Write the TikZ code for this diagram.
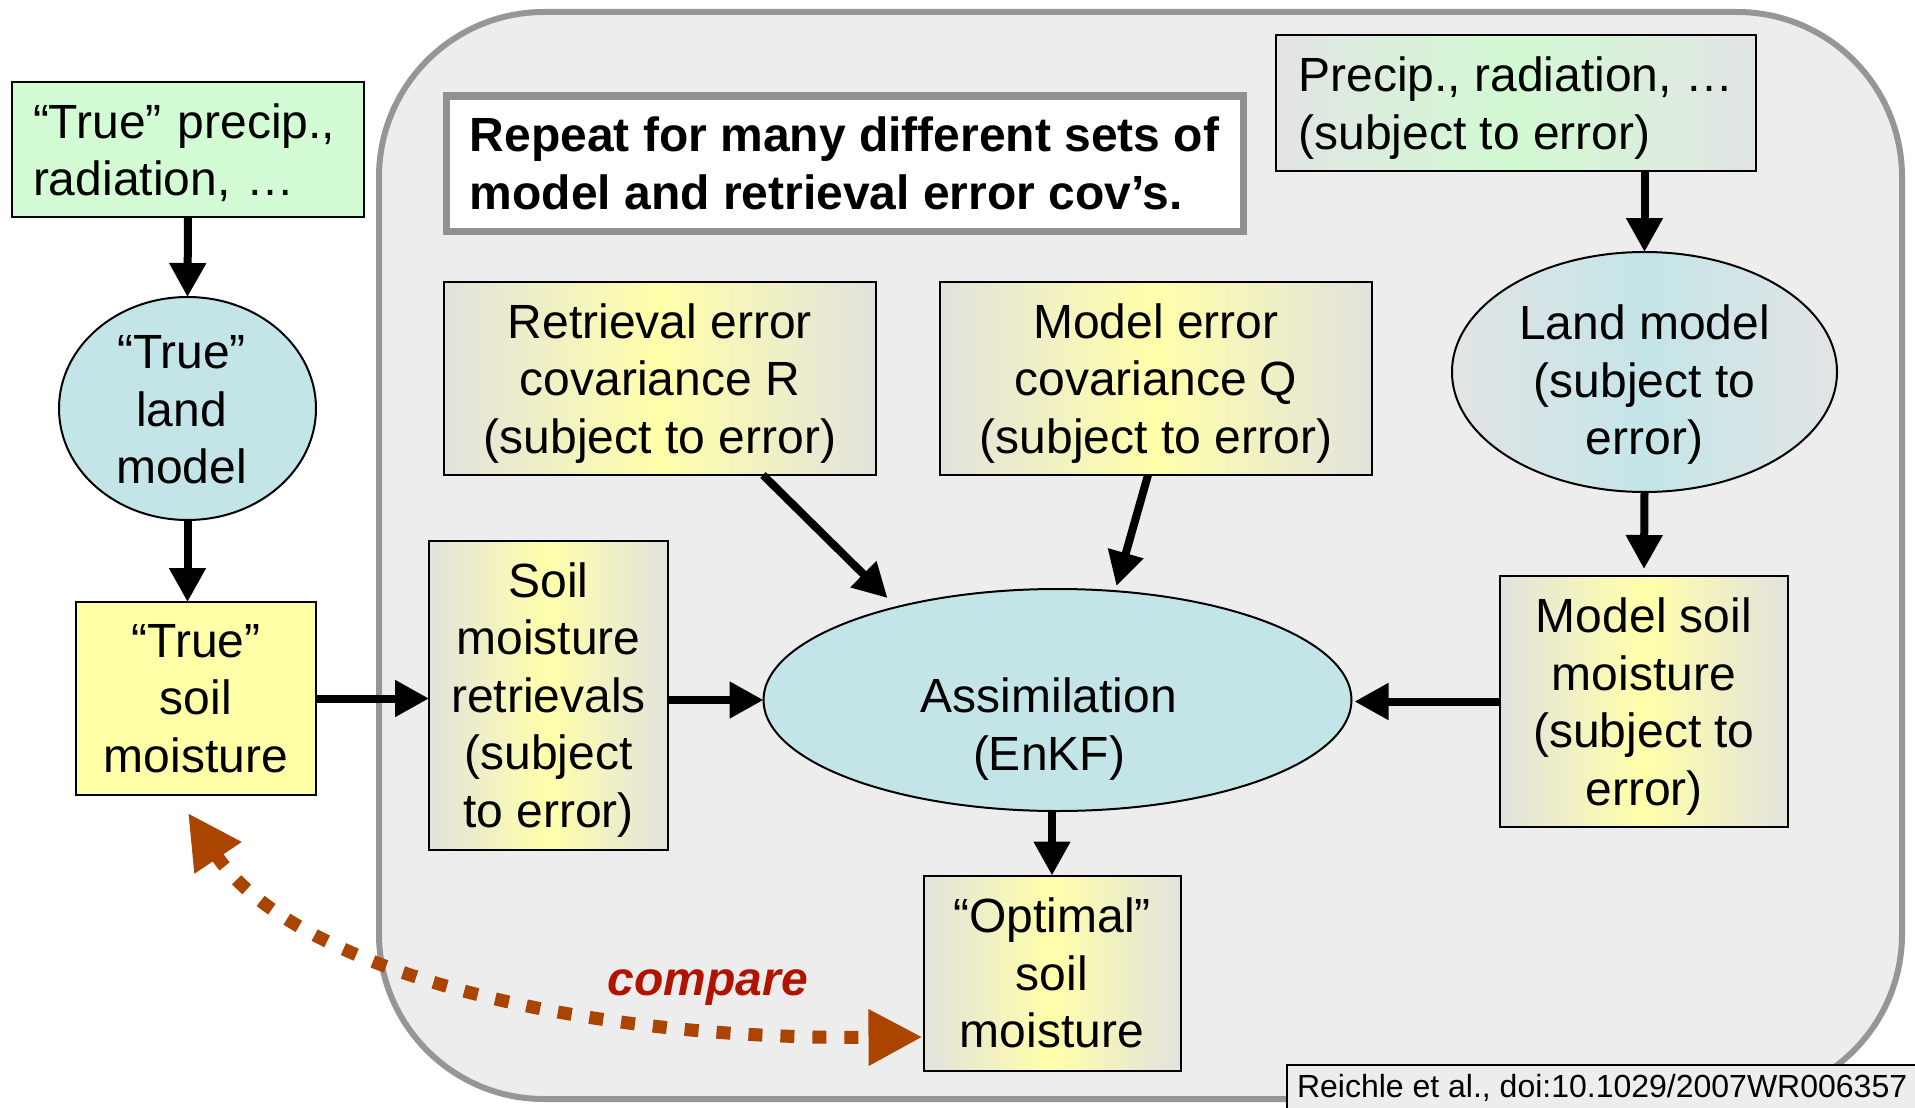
\documentclass[tikz,border=0pt]{standalone}
\usepackage{fontspec}
\setmainfont{Liberation Sans}
\usetikzlibrary{arrows.meta,shapes.geometric,calc}

\definecolor{panelgray}{RGB}{237,237,237}
\definecolor{panelborder}{RGB}{150,150,150}
\definecolor{notegray}{RGB}{145,145,145}
\definecolor{truegreen}{RGB}{212,252,212}
\definecolor{paleblue}{RGB}{196,229,232}
\definecolor{trueyellow}{RGB}{255,255,168}
\definecolor{edgegray}{RGB}{226,226,222}
\definecolor{midyellow}{RGB}{255,255,170}
\definecolor{midgreen}{RGB}{210,250,210}
\definecolor{edgegrayb}{RGB}{226,228,228}
\definecolor{comparebrown}{RGB}{170,68,0}
\definecolor{comparered}{RGB}{176,20,0}

% last line of a box: keep its descenders out of the vertical centring
\newcommand\flatline[1]{\raisebox{0pt}[\height][0pt]{#1}}

\begin{document}
\begin{tikzpicture}[x=1pt,y=-1pt,
  every node/.style={font=\fontsize{48}{57.5}\selectfont, inner sep=0pt, outer sep=0pt},
  box/.style={draw=black, line width=2pt, rectangle, align=center},
  errbox/.style={box, left color=edgegray, right color=edgegray, middle color=midyellow},
  oval/.style={draw=black, line width=2pt, ellipse},
  flowarrow/.style={line width=8pt, -{Triangle[length=34pt,width=35pt]}},
  comparearrow/.style={draw=comparebrown, line width=13pt, dash pattern=on 14pt off 18pt,
    {Triangle[length=54pt,width=53pt]}-{Triangle[length=54pt,width=53pt]}}
]
\useasboundingbox (0,0) rectangle (1915,1108);
\clip (0,0) rectangle (1915,1108);
\fill[white] (0,0) rectangle (1915,1108);

% grey panel holding the assimilation experiment
\draw[draw=panelborder, line width=6pt, fill=panelgray, rounded corners=165pt]
  (379,12) rectangle (1902,1099);

% truth (synthetic) side
\node[box, fill=truegreen, minimum width=352pt, minimum height=135pt, align=left, text width=310pt]
  (truePrecip) at (188,149.5) {“True” precip.,\\\flatline{radiation, …}};
\node[oval, fill=paleblue, minimum width=257pt, minimum height=223pt]
  (trueLand) at (187.5,408.5) {};
\node (trueLandText) at (181.5,410) [align=center] {“True”\\land\\model};
\node[box, fill=trueyellow, minimum width=240pt, minimum height=193pt]
  (trueSoil) at (196,698.5) {“True”\\soil\\moisture};

% note
\node[draw=notegray, line width=7pt, fill=white, minimum width=797pt, minimum height=135pt,
  align=left, font=\bfseries\fontsize{48}{57.5}\selectfont]
  (repeatNote) at (844.5,163.5) {Repeat for many different sets of\\model and retrieval error cov’s.};

% forcing and land model subject to error
\node[box, left color=edgegrayb, right color=edgegrayb, middle color=midgreen,
  minimum width=480pt, minimum height=136pt, align=left]
  (precipErr) at (1516,103) {Precip., radiation, …\\\flatline{(subject to error)}};
\node[oval, left color=edgegrayb, right color=edgegrayb, middle color=paleblue,
  minimum width=385pt, minimum height=240pt]
  (landModel) at (1644.5,372) {};
\node (landModelText) at (1644.5,380) [align=center] {Land model\\(subject to\\\flatline{error)}};
\node[errbox, minimum width=288pt, minimum height=251pt]
  (modSoil) at (1644,701.5) {Model soil\\moisture\\(subject to\\\flatline{error)}};

% error covariances
\node[errbox, minimum width=432pt, minimum height=193pt]
  (retR) at (660,378.5) {Retrieval error\\covariance R\\\flatline{(subject to error)}};
\node[errbox, minimum width=432pt, minimum height=193pt]
  (modQ) at (1156,378.5) {Model error\\covariance Q\\\flatline{(subject to error)}};

% retrievals, assimilation, result
\node[errbox, minimum width=239pt, minimum height=309pt]
  (retrievals) at (548.5,695) {Soil\\moisture\\retrievals\\(subject\\\flatline{to error)}};
\node[oval, fill=paleblue, minimum width=588pt, minimum height=222pt]
  (assim) at (1057.5,700) {};
\node (assimText) at (1049,729) [align=center] {Assimilation\\(EnKF)};
\node[errbox, minimum width=257pt, minimum height=195pt]
  (optimal) at (1052,973) {“Optimal”\\soil\\moisture};

% flow
\draw[flowarrow] (truePrecip.south) -- (trueLand.north);
\draw[flowarrow] (trueLand.south) -- (trueLand.south |- trueSoil.north);
\draw[flowarrow] (trueSoil.east) -- (trueSoil.east -| retrievals.west);
\draw[flowarrow] (retrievals.east |- assim.west) -- (assim.west);
\draw[flowarrow] ($(retR.south)+(103,0)$) -- ($(assim.north)+(-170,9)$);
\draw[flowarrow] ($(modQ.south)+(-8,0)$) -- ($(assim.north)+(59,-3)$);
\draw[flowarrow] (landModel.north |- precipErr.south) -- (landModel.north);
\draw[flowarrow] (landModel.south) -- ($(modSoil.north)+(0,-7)$);
\draw[flowarrow] (modSoil.west) -- ($(modSoil.west -| assim.east)+(3,0)$);
\draw[flowarrow] (optimal.north |- assim.south) -- (optimal.north);

% comparison of truth and estimate
\draw[comparearrow] ($(trueSoil.south)+(-8,18)$)
  .. controls ($(trueSoil.south)+(94,170)$) and ($(optimal.west)+(-364,67)$)
  .. ($(optimal.west)+(-1,64)$);
\node[anchor=base, text=comparered, font=\bfseries\itshape\fontsize{48}{57.5}\selectfont]
  (compareLabel) at (708,995) {compare};

% reference
\node[draw=black, line width=1.5pt, fill=panelgray, anchor=north west,
  minimum width=700pt, minimum height=80pt] (doiBox) at (1287,1065) {};
\node[anchor=west, font=\fontsize{32}{38}\selectfont]
  (doiText) at (1297,1088) {Reichle et al., doi:10.1029/2007WR006357};
\end{tikzpicture}
\end{document}
